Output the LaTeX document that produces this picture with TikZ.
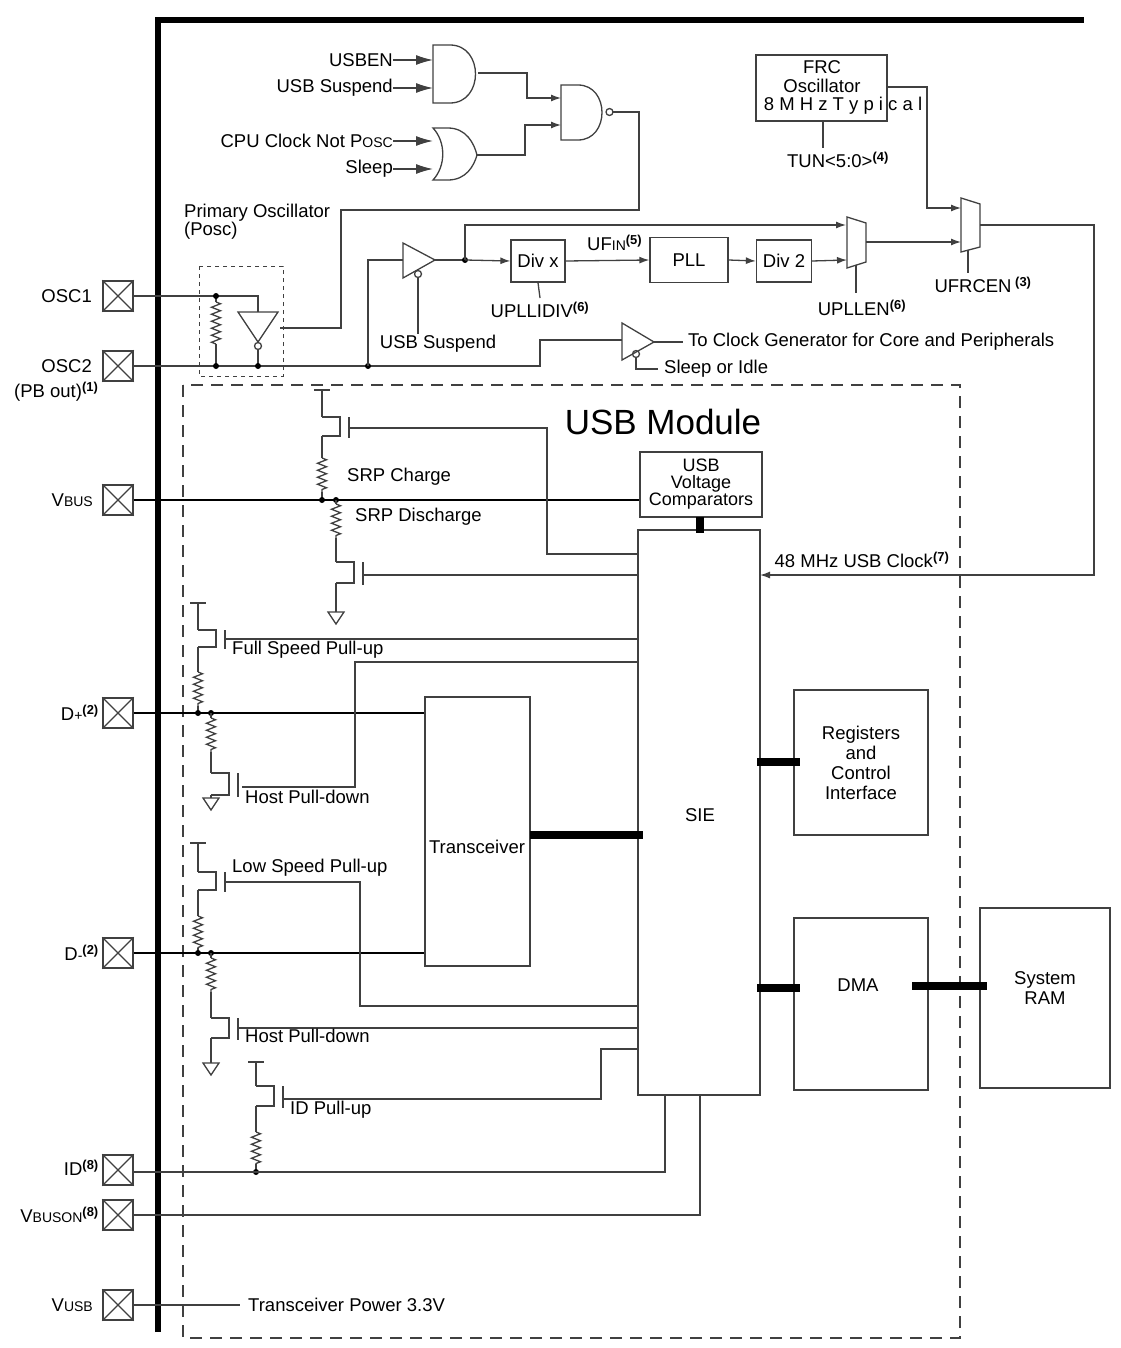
\documentclass[tikz,border=0pt]{standalone}
\usepackage{fontspec}
\setmainfont{Liberation Sans}
\usetikzlibrary{arrows.meta,decorations.pathmorphing}
\begin{document}
\begin{tikzpicture}[x=1pt,y=-1pt,
  ln/.style={draw=black!75,line width=1.3pt},
  thk/.style={draw=black,line width=2.6pt},
  bar/.style={draw=black,line width=8pt},
  arr/.style={ln,-{Latex[length=10pt,width=7pt]}},
  garr/.style={ln,-{Latex[length=17pt,width=10pt]}},
  res/.style={ln,decorate,decoration={zigzag,amplitude=4.5pt,segment length=7pt}},
  box/.style={ln,fill=white},
  t/.style={font=\fontsize{18.5}{19}\selectfont,inner sep=0pt},
  pinbox/.style={draw=black!75,line width=1.3pt,minimum size=30pt,inner sep=0pt,fill=white},
  dot/.style={circle,fill=black,inner sep=0pt,minimum size=6pt}]
\useasboundingbox (0,0) rectangle (1120,1348);
\newcommand{\sm}[1]{{\fontsize{14}{14}\selectfont #1}}
\newcommand{\sps}[1]{\textsuperscript{\bfseries #1}}
\newcommand{\fetch}[4]{%
  \draw[ln] (#1,#2)--(#1+18,#2)--(#1+18,#3)--(#1,#3);
  \draw[ln] (#1+27,#2)--(#1+27,#3+2);}
\newcommand{\fet}[4]{%
  \draw[ln] (#1-8,#2)--(#1+8,#2) (#1,#2)--(#1,#3);
  \fetch{#1}{#3}{#4}{}}
\newcommand{\gnd}[2]{\draw[ln] (#1-8,#2)--(#1+8,#2)--(#1,#2+12)--cycle;}
% main bus
\draw[line width=6pt] (158,1332)--(158,20)--(1084,20);
% USB module
\draw[ln,dash pattern=on 12pt off 8pt,line width=1.2pt] (183,385) rectangle (960,1338);
\node[t,font=\fontsize{35}{36}\selectfont] (usbm) at (663,422) {USB Module};
% pins
\foreach \n/\y in {osc1/296,osc2/366,vbus/500,dp/713,dm/953,id/1170,vbuson/1215,vusb/1305}{
  \node[pinbox] (\n) at (118,\y) {};
  \draw[ln] (\n.north west)--(\n.south east) (\n.north east)--(\n.south west);}
\node[t,anchor=east] at (92,296) {OSC1};
\node[t,anchor=east] at (92,366) {OSC2};
\node[t,anchor=west] at (14,392) {(PB out)\sps{(1)}};
\node[t,anchor=east] at (93,500) {V\sm{BUS}};
\node[t,anchor=east] at (99,713) {D\sm{+}\sps{(2)}};
\node[t,anchor=east] at (99,953) {D\sm{-}\sps{(2)}};
\node[t,anchor=east] at (99,1168) {ID\sps{(8)}};
\node[t,anchor=east] at (99,1215) {V\sm{BUSON}\sps{(8)}};
\node[t,anchor=east] at (93,1305) {V\sm{USB}};
% gates
\draw[ln] (433,45)--(450,45) .. controls (484,45) and (484,103) .. (450,103) -- (433,103) -- cycle;
\draw[ln] (433,128) .. controls (446,142) and (446,166) .. (433,180) -- (448,180) .. controls (466,180) and (474,166) .. (477,155) .. controls (474,143) and (466,128) .. (448,128) -- cycle;
\draw[ln] (561,85)--(578,85) .. controls (610,85) and (610,140) .. (578,140) -- (561,140) -- cycle;
\draw[ln] (609.5,112) circle (3.5pt);
\node[t,anchor=east] (usben) at (393,60) {USBEN};
\node[t,anchor=east] (usbs) at (393,88) {USB Suspend};
\node[t,anchor=east] (cpu) at (393,141) {CPU Clock Not P\sm{OSC}};
\node[t,anchor=east] (slp) at (393,169) {Sleep};
\draw[garr] (usben.east)--(433,60);
\draw[garr] (usbs.east)--(433,88);
\draw[garr] (cpu.east)--(433,141);
\draw[garr] (slp.east)--(433,169);
\draw[arr] (478,73)--(527,73)--(527,98)--(561,98);
\draw[arr] (476,155)--(525,155)--(525,125)--(561,125);
\draw[ln] (613,112)--(639,112)--(639,210)--(341,210)--(341,328)--(280,328);
% primary oscillator
\node[t,anchor=west,align=left,font=\fontsize{18.5}{15}\selectfont] at (184,222) {Primary Oscillator\\(Posc)};
\draw[ln,dash pattern=on 4pt off 4pt,line width=1pt] (199,266) rectangle (283,376);
\draw[ln] (osc1.east)--(258,296)--(258,312);
\draw[ln] (238,312)--(278,312)--(258,342)--cycle;
\draw[ln] (258,346) circle (3.5pt);
\draw[res] (216,302)--(216,344);
\draw[ln] (216,296)--(216,302) (216,344)--(216,366);
\draw[ln] (258,349.5)--(258,366);
\draw[ln] (osc2.east)--(540,366)--(540,340)--(622,340);
\node[dot] at (216,296) {}; \node[dot] at (216,366) {}; \node[dot] at (258,366) {}; \node[dot] at (368,366) {};
% usb suspend buffer
\draw[ln] (368,366)--(368,260)--(403,260);
\draw[ln] (403,243)--(435,260)--(403,278)--cycle;
\draw[ln] (418,274) circle (3.5pt);
\draw[ln] (418,277.5)--(418,334);
\node[t] at (438,344) {USB Suspend};
\draw[ln] (435,260)--(465,260);
\node[dot] at (465,260) {};
\node[box,minimum width=54pt,minimum height=42pt,inner sep=0pt] (divx) at (538,261) {};
\node[t] at (divx) {Div x};
\draw[arr] (465,260)--(divx.west);
\draw[arr] (465,260)--(465,225)--(846,225);
\draw[ln] (divx.south)--(540,298);
\node[t] at (540,310) {UPLLIDIV\sps{(6)}};
\node[box,minimum width=78pt,minimum height=45pt,inner sep=0pt] (pll) at (689,260) {};
\node[t] at (pll) {PLL};
\node[t,anchor=west] at (587,243) {UF\sm{IN}\sps{(5)}};
\draw[arr] (divx.east)--(pll.west);
\node[box,minimum width=55pt,minimum height=42pt,inner sep=0pt] (div2) at (784,261) {};
\node[t] at (div2) {Div 2};
\draw[arr] (pll.east)--(div2.west);
\draw[arr] (div2.east)--(847,260);
% mux1
\draw[ln] (847,217)--(866,223)--(866,262)--(847,268)--cycle;
\draw[ln] (856,265)--(856,293);
\node[t] at (862,308) {UPLLEN\sps{(6)}};
\draw[arr] (866,242)--(961,242);
% FRC
\draw[ln] (756,55) rectangle (887,121);
\node[t] at (822,67) {FRC};
\node[t] at (822,86) {Oscillator};
\node[t] at (843,106) {8 M H z T y p i c a l};
\draw[ln] (823,121)--(823,148);
\node[t] at (838,160) {TUN<5:0>\sps{(4)}};
\draw[arr] (887,87)--(927,87)--(927,208)--(961,208);
% mux2
\draw[ln] (961,198)--(980,204)--(980,247)--(961,252)--cycle;
\draw[ln] (968,250)--(968,273);
\node[t] at (983,285) {UFRCEN\sps{ (3)}};
% clock gen buffer
\draw[ln] (622,323)--(654,342)--(622,360)--cycle;
\draw[ln] (636,354) circle (3.5pt);
\draw[ln] (636,357.5)--(636,369)--(658,369);
\node[t,anchor=west] at (664,369) {Sleep or Idle};
\draw[ln] (654,342)--(683,342);
\node[t,anchor=west] at (688,342) {To Clock Generator for Core and Peripherals};
% comparators and SIE
\node[box,minimum width=122pt,minimum height=65pt,inner sep=0pt,align=center,font=\fontsize{18}{17}\selectfont] (cmp) at (701,484.5) {USB\\Voltage\\Comparators};
\node[box,minimum width=122pt,minimum height=565pt,inner sep=0pt] (sie) at (699,812.5) {};
\node[t] at (700,815) {SIE};
\draw[bar] (700,517)--(700,533);
\draw[arr] (980,225)--(1094,225)--(1094,575)--(760,575);
\node[t] at (862,560) {48 MHz USB Clock\sps{(7)}};
% VBUS
\draw[thk] (vbus.east)--(cmp.west|-500,500);
\fet{322}{390}{417}{436}
\draw[ln] (349,428)--(547,428)--(547,554)--(638,554);
\draw[ln] (322,436)--(322,458) (322,492)--(322,500);
\draw[res] (322,458)--(322,492);
\node[t,anchor=west] at (347,477) {SRP Charge};
\node[dot] at (322,500) {}; \node[dot] at (336,500) {};
\draw[res] (336,504)--(336,538);
\draw[ln] (336,500)--(336,504) (336,538)--(336,562);
\fetch{336}{562}{583}{}
\draw[ln] (363,575)--(638,575);
\draw[ln] (336,583)--(336,612);
\gnd{336}{612}
\node[t,anchor=west] at (355,517) {SRP Discharge};
% D+
\node[box,minimum width=105pt,minimum height=269pt,inner sep=0pt] (xcv) at (477.5,831.5) {};
\node[t] at (477,847) {Transceiver};
\draw[thk] (dp.east)--(xcv.west|-713,713);
\draw[thk] (dm.east)--(xcv.west|-953,953);
\draw[bar] (530,835)--(643,835);
\fet{198}{603}{630}{647}
\draw[ln] (225,639)--(638,639);
\node[t,anchor=west] at (232,650) {Full Speed Pull-up};
\draw[ln] (198,647)--(198,672) (198,706)--(198,713);
\draw[res] (198,672)--(198,706);
\node[dot] at (198,713) {}; \node[dot] at (211,713) {};
\draw[ln] (638,662)--(355,662)--(355,787)--(242,787);
\draw[ln] (211,713)--(211,718) (211,752)--(211,773);
\draw[res] (211,718)--(211,752);
\fetch{211}{773}{795}{}
\draw[ln] (211,795)--(211,798);
\gnd{211}{798}
\node[t,anchor=west] at (245,797) {Host Pull-down};
% D-
\fet{198}{843}{872}{890}
\draw[ln] (225,882)--(360,882)--(360,1006)--(638,1006);
\node[t,anchor=west] at (232,868) {Low Speed Pull-up};
\draw[ln] (198,890)--(198,916) (198,948)--(198,953);
\draw[res] (198,916)--(198,948);
\node[dot] at (198,953) {}; \node[dot] at (211,953) {};
\draw[ln] (211,953)--(211,958) (211,992)--(211,1018);
\draw[res] (211,958)--(211,992);
\fetch{211}{1018}{1038}{}
\draw[ln] (238,1028)--(638,1028);
\draw[ln] (211,1038)--(211,1063);
\gnd{211}{1063}
\node[t,anchor=west] at (245,1036) {Host Pull-down};
% ID
\fet{256}{1062}{1086}{1106}
\draw[ln] (283,1099)--(601,1099)--(601,1049)--(638,1049);
\node[t,anchor=west] at (290,1110) {ID Pull-up};
\draw[ln] (256,1106)--(256,1132) (256,1164)--(256,1172);
\draw[res] (256,1132)--(256,1164);
\node[dot] at (256,1172) {};
\draw[ln] (id.east|-1172,1172)--(665,1172)--(665,1095);
\draw[ln] (vbuson.east)--(700,1215)--(700,1095);
\draw[ln] (vusb.east)--(240,1305);
\node[t,anchor=west] at (248,1305) {Transceiver Power 3.3V};
% registers, DMA, RAM
\node[box,minimum width=134pt,minimum height=145pt,inner sep=0pt,align=center,font=\fontsize{18.5}{20}\selectfont] (reg) at (861,762.5) {Registers\\and\\Control\\Interface};
\draw[bar] (757,762)--(800,762);
\node[box,minimum width=134pt,minimum height=172pt,inner sep=0pt] (dma) at (861,1004) {};
\node[t] at (858,985) {DMA};
\draw[bar] (757,988)--(800,988);
\node[box,minimum width=130pt,minimum height=180pt,inner sep=0pt,align=center,font=\fontsize{18.5}{20}\selectfont] (ram) at (1045,998) {System\\RAM\\\phantom{X}};
\draw[bar] (912,986)--(987,986);
\end{tikzpicture}
\end{document}
